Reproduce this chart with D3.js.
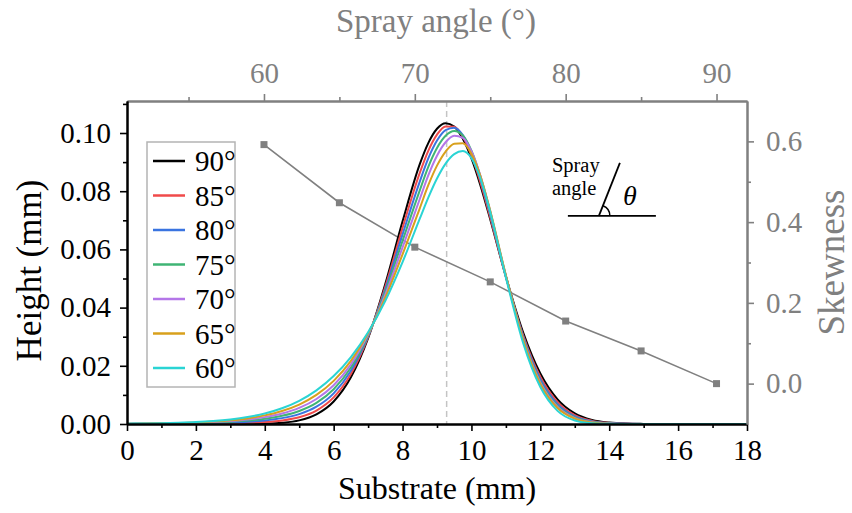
<!DOCTYPE html>
<html>
<head>
<meta charset="utf-8">
<script src="https://cdn.jsdelivr.net/npm/d3@7"></script>
<style>
  html, body { margin: 0; padding: 0; background: #ffffff; }
  svg { display: block; }
</style>
</head>
<body>
<svg id="chart" width="852" height="513"></svg>
<script>
// Substrate position (mm) at which each height profile is sampled
const substrate = [0, 0.5, 1, 1.5, 2, 2.5, 3, 3.5, 4, 4.5, 5, 5.5, 6, 6.5, 7, 7.5, 8, 8.5,
  8.75, 9, 9.25, 9.5, 9.75, 10, 10.25,
  10.5, 11, 11.5, 12, 12.5, 13, 13.5, 14, 14.5, 15, 15.5, 16, 16.5, 17, 17.5, 18];

// Deposit height profiles (mm) for each spray angle
const height90 = [0, 0, 0, 0, 0, 0, 0.00001, 0.00003, 0.00012, 0.00042, 0.00125, 0.0033, 0.00773, 0.01604, 0.02952, 0.04816, 0.06965, 0.0893,
  0.09663, 0.10147, 0.10338, 0.1022, 0.09804, 0.09125, 0.08241,
  0.07222, 0.05067, 0.03151, 0.01737, 0.00849, 0.00367, 0.00141, 0.00048, 0.00014, 0.00004, 0, 0, 0, 0, 0, 0];
const height85 = [0.00002, 0.00003, 0.00004, 0.00007, 0.00011, 0.00016, 0.00026, 0.00041, 0.00068, 0.00122, 0.00233, 0.00462, 0.00913, 0.01716, 0.02984, 0.04723, 0.06741, 0.0863,
  0.09397, 0.09944, 0.10226, 0.10214, 0.09872, 0.09229, 0.08344,
  0.07298, 0.0505, 0.03057, 0.01621, 0.00751, 0.00305, 0.00108, 0.00034, 0.00009, 0.00002, 0, 0, 0, 0, 0, 0];
const height80 = [0.00004, 0.00006, 0.00009, 0.00014, 0.00021, 0.00033, 0.00051, 0.00079, 0.00124, 0.00202, 0.0034, 0.00594, 0.01053, 0.01827, 0.03017, 0.04631, 0.06517, 0.08331,
  0.09134, 0.0974, 0.10099, 0.10183, 0.09927, 0.09333, 0.08462,
  0.07398, 0.05071, 0.03006, 0.01542, 0.00684, 0.00262, 0.00087, 0.00025, 0.00006, 0.00001, 0, 0, 0, 0, 0, 0];
const height75 = [0.00006, 0.00009, 0.00013, 0.00021, 0.00032, 0.00049, 0.00076, 0.00116, 0.0018, 0.00281, 0.00448, 0.00726, 0.01193, 0.01939, 0.03049, 0.04538, 0.06293, 0.08031,
  0.08845, 0.09484, 0.09903, 0.10068, 0.09917, 0.09391, 0.08548,
  0.0748, 0.05088, 0.02955, 0.01465, 0.0062, 0.00224, 0.00069, 0.00018, 0.00004, 0.00001, 0, 0, 0, 0, 0, 0];
const height70 = [0.00008, 0.00012, 0.00018, 0.00028, 0.00042, 0.00065, 0.00101, 0.00154, 0.00236, 0.00361, 0.00555, 0.00859, 0.01332, 0.02051, 0.03082, 0.04445, 0.0607, 0.07731,
  0.08555, 0.09221, 0.09682, 0.09903, 0.09835, 0.09377, 0.08574,
  0.07518, 0.05098, 0.02924, 0.01419, 0.00582, 0.00202, 0.00059, 0.00015, 0.00003, 0, 0, 0, 0, 0, 0, 0];
const height65 = [0.0001, 0.00015, 0.00023, 0.00035, 0.00053, 0.00083, 0.00127, 0.00192, 0.00296, 0.00446, 0.00669, 0.00999, 0.01481, 0.02169, 0.03116, 0.04347, 0.05832, 0.07413,
  0.08214, 0.08879, 0.09363, 0.09631, 0.09652, 0.0929, 0.08552,
  0.0753, 0.05107, 0.029, 0.01377, 0.00548, 0.00182, 0.00051, 0.00012, 0.00002, 0, 0, 0, 0, 0, 0, 0];
const height60 = [0.00012, 0.00018, 0.00028, 0.00043, 0.00066, 0.00102, 0.00157, 0.00239, 0.00362, 0.00541, 0.00797, 0.01156, 0.01647, 0.02302, 0.03155, 0.04237, 0.05566, 0.07057,
  0.0779, 0.08439, 0.0895, 0.09274, 0.0938, 0.09135, 0.08472,
  0.07481, 0.05037, 0.02789, 0.01269, 0.0045, 0.0012, 0.00025, 0.00005, 0, 0, 0, 0, 0, 0, 0, 0];

const seriesLabels = ["90°", "85°", "80°", "75°", "70°", "65°", "60°"];
const seriesHeights = [height90, height85, height80, height75, height70, height65, height60];
const seriesColors = ["#000000", "#f04a4a", "#3a74e0", "#3fb474", "#b476e8", "#d8a01c", "#2ad4d4"];

// Skewness of each profile against spray angle (upper / right axes)
const sprayAngles = [60, 65, 70, 75, 80, 85, 90];
const skewness = [0.592, 0.448, 0.338, 0.252, 0.155, 0.081, 0.0];

// Reference position of the 90° peak (dashed marker)
const referencePosition = [9.28];

// Tick values
const xTicks = [0, 2, 4, 6, 8, 10, 12, 14, 16, 18];
const xMinorTicks = [1, 3, 5, 7, 9, 11, 13, 15, 17];
const yTicks = [0, 0.02, 0.04, 0.06, 0.08, 0.10];
const yMinorTicks = [0.01, 0.03, 0.05, 0.07, 0.09, 0.11];
const angleTicks = [60, 70, 80, 90];
const angleMinorTicks = [55, 65, 75, 85];
const skewTicks = [0, 0.2, 0.4, 0.6];
const skewMinorTicks = [0.1, 0.3, 0.5];

const SERIF = '"Liberation Serif", "Times New Roman", Times, serif';
const svg = d3.select("#chart");
const plot = { left: 127, right: 747, top: 101, bottom: 424 };
const grey = "#808080";
const tickFont = 29;

const x = d3.scaleLinear().domain([0, 18]).range([plot.left, plot.right]);
const y = d3.scaleLinear().domain([0, 0.111]).range([plot.bottom, plot.top]);
const xTop = d3.scaleLinear().domain([50.92, 92.02]).range([plot.left, plot.right]);
const yRight = d3.scaleLinear().domain([-0.1, 0.7]).range([plot.bottom, plot.top]);

svg.append("defs").append("clipPath").attr("id", "plot-clip")
  .append("rect")
  .attr("x", plot.left).attr("y", plot.top)
  .attr("width", plot.right - plot.left).attr("height", plot.bottom - plot.top);

// Dashed marker at the reference peak position
svg.append("g").selectAll("line").data(referencePosition).join("line")
  .attr("x1", d => x(d)).attr("x2", d => x(d))
  .attr("y1", plot.top).attr("y2", plot.bottom)
  .attr("stroke", "#c4c4c4").attr("stroke-width", 1.5)
  .attr("stroke-dasharray", "6,4");

// Skewness line with square markers
const skewData = sprayAngles.map((a, i) => ({ a, s: skewness[i] }));
svg.append("path").datum(skewData)
  .attr("fill", "none").attr("stroke", grey).attr("stroke-width", 1.6)
  .attr("d", d3.line().x(d => xTop(d.a)).y(d => yRight(d.s)));
svg.append("g").selectAll("rect").data(skewData).join("rect")
  .attr("x", d => xTop(d.a) - 3.5).attr("y", d => yRight(d.s) - 3.5)
  .attr("width", 7).attr("height", 7).attr("fill", grey);

// Height profiles
const profileLine = d3.line()
  .x((d, i) => x(substrate[i]))
  .y(d => y(d))
  .curve(d3.curveMonotoneX);
svg.append("g").attr("clip-path", "url(#plot-clip)")
  .selectAll("path").data(seriesHeights).join("path")
  .attr("fill", "none")
  .attr("stroke", (d, i) => seriesColors[i])
  .attr("stroke-width", 2)
  .attr("d", d => profileLine(d));

// Axes
function styleAxis(g, color, width) {
  g.attr("font-family", null).attr("font-size", null);
  g.select(".domain").attr("stroke", color).attr("stroke-width", width);
  g.selectAll(".tick line").attr("stroke", color).attr("stroke-width", width * 0.8);
  g.selectAll(".tick text").attr("fill", color)
    .style("font-family", SERIF).style("font-size", tickFont + "px");
}

// bottom
svg.append("g").attr("transform", `translate(0,${plot.bottom})`)
  .call(d3.axisBottom(x).tickValues(xMinorTicks).tickSize(4).tickSizeOuter(0).tickFormat(""))
  .call(g => styleAxis(g, "#000", 2));
svg.append("g").attr("transform", `translate(0,${plot.bottom})`)
  .call(d3.axisBottom(x).tickValues(xTicks).tickSize(7).tickSizeOuter(0).tickPadding(8).tickFormat(d3.format("d")))
  .call(g => styleAxis(g, "#000", 2));

// top
svg.append("g").attr("transform", `translate(0,${plot.top})`)
  .call(d3.axisTop(xTop).tickValues(angleMinorTicks).tickSize(4).tickSizeOuter(0).tickFormat(""))
  .call(g => styleAxis(g, grey, 2));
svg.append("g").attr("transform", `translate(0,${plot.top})`)
  .call(d3.axisTop(xTop).tickValues(angleTicks).tickSize(7).tickSizeOuter(0).tickPadding(11).tickFormat(d3.format("d")))
  .call(g => styleAxis(g, grey, 2));

// left
svg.append("g").attr("transform", `translate(${plot.left},0)`)
  .call(d3.axisLeft(y).tickValues(yMinorTicks).tickSize(4).tickSizeOuter(0).tickFormat(""))
  .call(g => styleAxis(g, "#000", 2));
svg.append("g").attr("transform", `translate(${plot.left},0)`)
  .call(d3.axisLeft(y).tickValues(yTicks).tickSize(7).tickSizeOuter(0).tickPadding(9).tickFormat(d3.format(".2f")))
  .call(g => styleAxis(g, "#000", 2));

// right
svg.append("g").attr("transform", `translate(${plot.right},0)`)
  .call(d3.axisRight(yRight).tickValues(skewMinorTicks).tickSize(4).tickSizeOuter(0).tickFormat(""))
  .call(g => styleAxis(g, grey, 2));
svg.append("g").attr("transform", `translate(${plot.right},0)`)
  .call(d3.axisRight(yRight).tickValues(skewTicks).tickSize(7).tickSizeOuter(0).tickPadding(12).tickFormat(d3.format(".1f")))
  .call(g => styleAxis(g, grey, 2));

// Axis titles
function title(sel, size, color) {
  return sel.attr("text-anchor", "middle").attr("fill", color)
    .style("font-family", SERIF).style("font-size", size + "px");
}
svg.append("text").attr("x", (plot.left + plot.right) / 2).attr("y", 499)
  .call(title, 32, "#000").text("Substrate (mm)");
svg.append("text").attr("x", (plot.left + plot.right) / 2 - 1).attr("y", 32)
  .call(title, 33, grey).text("Spray angle (°)");
svg.append("text")
  .attr("transform", `translate(41,${(plot.top + plot.bottom) / 2 + 8}) rotate(-90)`)
  .call(title, 35, "#000").text("Height (mm)");
svg.append("text")
  .attr("transform", `translate(844,${(plot.top + plot.bottom) / 2}) rotate(-90)`)
  .call(title, 37, grey).text("Skewness");

// Legend
const legend = svg.append("g").attr("transform", "translate(147,142)");
legend.append("rect").attr("width", 88).attr("height", 245)
  .attr("fill", "#fff").attr("stroke", "#b4b4b4").attr("stroke-width", 1.5);
const rows = legend.selectAll("g").data(seriesLabels).join("g")
  .attr("transform", (d, i) => `translate(0,${19 + i * 34.5})`);
rows.append("line").attr("x1", 6).attr("x2", 38).attr("y1", 0).attr("y2", 0)
  .attr("stroke", (d, i) => seriesColors[i]).attr("stroke-width", 2.5);
rows.append("text").attr("x", 48).attr("y", 10)
  .attr("fill", "#000").style("font-family", SERIF).style("font-size", tickFont + "px")
  .text(d => d);

// Inset sketch of the spray angle
const inset = svg.append("g").attr("transform", `translate(${x(13.7)},${y(0.0715)})`);
const insetText = (sel, size) => sel.style("font-family", SERIF).style("font-size", size + "px").attr("fill", "#000");
inset.append("text").attr("x", -47).attr("y", -44).call(insetText, 20.5).text("Spray");
inset.append("text").attr("x", -47).attr("y", -21).call(insetText, 20.5).text("angle");
inset.append("line").attr("x1", -31).attr("x2", 57).attr("y1", 0).attr("y2", 0)
  .attr("stroke", "#000").attr("stroke-width", 1.8);
inset.append("line").attr("x1", 0).attr("y1", 0).attr("x2", 21).attr("y2", -53)
  .attr("stroke", "#000").attr("stroke-width", 1.8);
inset.append("path")
  .attr("d", d3.arc()({ innerRadius: 11, outerRadius: 11, startAngle: Math.PI / 2, endAngle: Math.PI / 2 - 1.19 }))
  .attr("fill", "none").attr("stroke", "#000").attr("stroke-width", 1.5);
inset.append("text").attr("x", 24).attr("y", -11).call(insetText, 28)
  .style("font-style", "italic").text("θ");
</script>
</body>
</html>
